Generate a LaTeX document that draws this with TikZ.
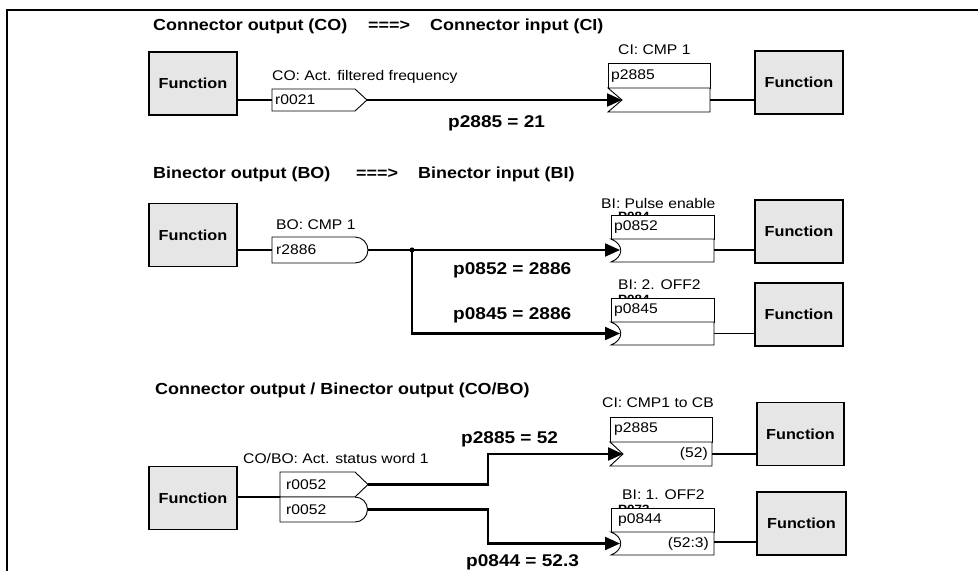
\documentclass[tikz,border=0pt]{standalone}
\usepackage{fontspec}
\setmainfont{Liberation Sans}[FakeStretch=1.12]
\usetikzlibrary{arrows.meta}
\definecolor{funcgray}{HTML}{E6E6E6}
\begin{document}
\begin{tikzpicture}[x=1pt,y=-1pt,
  func/.style={draw, line width=1.6pt, fill=funcgray, minimum width=88pt, minimum height=63pt, inner sep=0pt, font=\fontsize{14.5}{16}\selectfont\bfseries},
  ttl/.style={anchor=west, inner sep=0pt, font=\fontsize{16}{18}\selectfont\bfseries},
  lbl/.style={anchor=west, inner sep=0pt, font=\fontsize{14}{16}\selectfont},
  eqn/.style={anchor=west, inner sep=0pt, font=\fontsize{17}{19}\selectfont\bfseries},
  hid/.style={anchor=north west, inner sep=0pt, font=\fontsize{12}{13}\selectfont\bfseries},
  pbox/.style={draw, line width=0.9pt, fill=white, line join=miter},
  wire/.style={line width=2.2pt},
  thinwire/.style={line width=1.5pt},
  tip/.style={-{Triangle[length=15pt,width=13pt]}}
]
\useasboundingbox (0,0) rectangle (978,571);
% frame
\draw[line width=2pt] (7,571) -- (7,10) -- (978,10);

%% ---------------- Section 1 ----------------
\node[ttl] (t1a) at (153,26) {Connector output (CO)};
\node[ttl] (t1b) at (368,26) {===>};
\node[ttl] (t1c) at (430,26) {Connector input (CI)};

\node[func] (f1) at (193,83.5) {Function};
\node[func] (f2) at (799,82.5) {Function};

% CO box
\draw[pbox] (272,89) -- (355,89) -- (367,100) -- (355,111) -- (272,111) -- cycle;
\coordinate (co1in) at (272,100);
\coordinate (co1out) at (367,100);
\node[lbl] (co1lbl) at (272,77) {CO: Act. filtered frequency};
\node[lbl] (co1par) at (275,100) {r0021};

% CI box
\draw[pbox] (608,63) rectangle (710,88);
\draw[pbox] (608,88) -- (710,88) -- (710,112) -- (608,112) -- (622,100) -- cycle;
\coordinate (ci1in) at (622,100);
\coordinate (ci1out) at (710,100);
\node[lbl] (ci1lbl) at (618,50) {CI: CMP 1};
\node[lbl] (ci1par) at (611,76) {p2885};

\draw[thinwire] (f1.east |- co1in) -- (co1in);
\draw[wire,tip] (co1out) -- (ci1in);
\draw[thinwire] (ci1out) -- (f2.west |- ci1out);
\node[eqn] (eq1) at (448,123) {p2885 = 21};

%% ---------------- Section 2 ----------------
\node[ttl] (t2a) at (153,174) {Binector output (BO)};
\node[ttl] (t2b) at (356,174) {===>};
\node[ttl] (t2c) at (418,174) {Binector input (BI)};

\node[func] (f3) at (193,235) {Function};
\node[func] (f4) at (799,231.5) {Function};
\node[func] (f5) at (799,314.5) {Function};

% BO box
\draw[pbox] (272,237) -- (355,237) arc[start angle=-90, end angle=90, radius=13] -- (272,263) -- cycle;
\coordinate (bo1in) at (272,250);
\coordinate (bo1out) at (368,250);
\node[lbl] (bo1lbl) at (276,225) {BO: CMP 1};
\node[lbl] (bo1par) at (276,250) {r2886};

% BI box 1
\node[hid] (hid1) at (618,211.5) {P084};
\draw[pbox] (611,215) rectangle (714,239);
\draw[pbox] (611,239) -- (714,239) -- (714,262) -- (611,262) .. controls (624,257) and (624,244) .. (611,239) -- cycle;
\coordinate (bi1in) at (620,250);
\coordinate (bi1out) at (714,250);
\node[lbl] (bi1lbl) at (601,203) {BI: Pulse enable};
\node[lbl] (bi1par) at (614,227) {p0852};

% BI box 2
\node[hid] (hid2) at (618,294.5) {P084};
\draw[pbox] (611,298) rectangle (714,322);
\draw[pbox] (611,322) -- (714,322) -- (714,345) -- (611,345) .. controls (624,340) and (624,327) .. (611,322) -- cycle;
\coordinate (bi2in) at (620,333.5);
\coordinate (bi2out) at (714,333.5);
\node[lbl] (bi2lbl) at (618,285) {BI: 2. OFF2};
\node[lbl] (bi2par) at (614,310) {p0845};

\coordinate (j1) at (412,250);
\draw[thinwire] (f3.east |- bo1in) -- (bo1in);
\draw[wire,tip] (bo1out) -- (bi1in);
\draw[wire,tip] (j1) |- (bi2in);
\fill (j1) circle (2.6);
\draw[thinwire] (bi1out) -- (f4.west |- bi1out);
\draw[thinwire] (bi2out) -- (f5.west |- bi2out);
\node[eqn] (eq2) at (453,270) {p0852 = 2886};
\node[eqn] (eq3) at (453,315) {p0845 = 2886};

%% ---------------- Section 3 ----------------
\node[ttl] (t3) at (155,390) {Connector output / Binector output (CO/BO)};

\node[func] (f6) at (193,498) {Function};
\node[func, minimum width=87pt] (f7) at (800.5,434) {Function};
\node[func, minimum width=89pt] (f8) at (801.5,523.5) {Function};

% CO/BO boxes
\draw[pbox] (280,472) -- (355,472) -- (368,484.5) -- (355,497) -- (280,497) -- cycle;
\draw[pbox] (280,497) -- (355,497) arc[start angle=-90, end angle=90, radius=12.5] -- (280,522) -- cycle;
\coordinate (cobo) at (280,497);
\coordinate (co3out) at (368,484.5);
\coordinate (bo3out) at (367.5,509.5);
\node[lbl] (cobolbl) at (243,458) {CO/BO: Act. status word 1};
\node[lbl] (cobopar1) at (286,485) {r0052};
\node[lbl] (cobopar2) at (286,510) {r0052};

% CI box 3
\draw[pbox] (610,417) rectangle (712,442);
\draw[pbox] (610,442) -- (712,442) -- (712,466) -- (610,466) -- (623,454) -- cycle;
\coordinate (ci3in) at (623,454);
\coordinate (ci3out) at (712,454);
\node[lbl] (ci3lbl) at (602,403) {CI: CMP1 to CB};
\node[lbl] (ci3par) at (614,429) {p2885};
\node[lbl, anchor=east] (ci3val) at (708,454) {(52)};

% BI box 3
\node[hid] (hid3) at (618,504.5) {P073};
\draw[pbox] (611,508) rectangle (714,532);
\draw[pbox] (611,532) -- (714,532) -- (714,555) -- (611,555) .. controls (624,550) and (624,537) .. (611,532) -- cycle;
\coordinate (bi3in) at (620,543.5);
\coordinate (bi3out) at (714,542);
\node[lbl] (bi3lbl) at (622,495) {BI: 1. OFF2};
\node[lbl] (bi3par) at (618,520) {p0844};
\node[lbl, anchor=east] (bi3val) at (709,544) {(52:3)};

\draw[thinwire] (f6.east |- cobo) -- (cobo);
\draw[wire,tip] (co3out) -| (488,454) -- (ci3in);
\draw[wire,tip] (bo3out) -| (488,543.5) -- (bi3in);
\draw[thinwire] (ci3out) -- (f7.west |- ci3out);
\draw[thinwire] (bi3out) -- (f8.west |- bi3out);
\node[eqn] (eq4) at (461,439) {p2885 = 52};
\node[eqn] (eq5) at (466,562) {p0844 = 52.3};
\end{tikzpicture}
\end{document}
